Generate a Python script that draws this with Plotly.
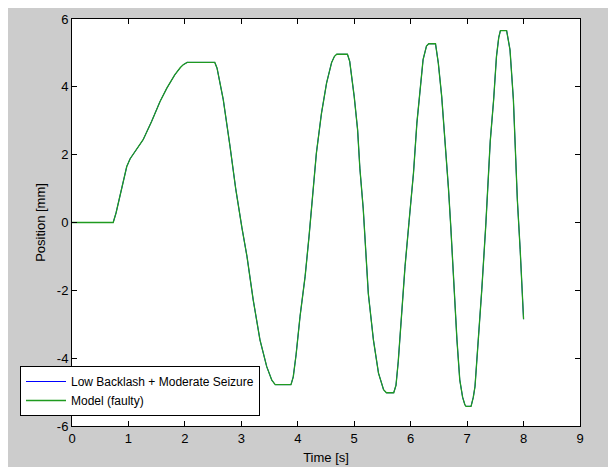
import plotly.graph_objects as go

# Data (time [s], position [mm])
time_s = [0, 0.73, 0.78, 0.87, 0.97, 1.03, 1.09, 1.17, 1.26, 1.41, 1.56, 1.68, 1.82, 1.92, 1.97, 2.04,
          2.53, 2.57, 2.62, 2.68, 2.80, 2.90, 3.01, 3.10, 3.21, 3.33, 3.45, 3.54, 3.60,
          3.88, 3.92, 3.97, 4.04, 4.13, 4.20, 4.28, 4.33, 4.42, 4.51, 4.60, 4.65, 4.69,
          4.88, 4.92, 4.96, 5.00, 5.06, 5.10, 5.16, 5.20, 5.25, 5.34, 5.43, 5.52, 5.57,
          5.70, 5.74, 5.78, 5.82, 5.90, 5.97, 6.05, 6.11, 6.17, 6.22, 6.28, 6.32,
          6.44, 6.49, 6.55, 6.61, 6.67, 6.71, 6.76, 6.82, 6.87, 6.92, 6.96, 6.98,
          7.07, 7.11, 7.14, 7.20, 7.26, 7.33, 7.41, 7.47, 7.52, 7.56, 7.59,
          7.70, 7.73, 7.76, 7.82, 7.855, 7.89, 7.94, 7.985, 8.0]
position_mm = [0, 0, 0.28, 0.95, 1.65, 1.88, 2.02, 2.2, 2.44, 2.98, 3.57, 3.96, 4.35, 4.57, 4.65, 4.72,
               4.72, 4.55, 4.15, 3.62, 2.24, 1.0, -0.15, -1.0, -2.28, -3.46, -4.25, -4.65, -4.78,
               -4.78, -4.55, -3.9, -2.77, -1.59, -0.4, 1.0, 2.05, 3.22, 4.11, 4.72, 4.9, 4.96,
               4.96, 4.75, 4.3, 3.71, 2.73, 1.6, 0.4, -0.6, -2.1, -3.46, -4.44, -4.93, -5.02,
               -5.02, -4.8, -4.1, -3.07, -1.3, 0.0, 1.46, 2.93, 4.01, 4.80, 5.2, 5.27,
               5.27, 4.7, 3.71, 2.44, 1.0, -0.1, -1.79, -3.46, -4.64, -5.15, -5.37, -5.42,
               -5.42, -5.15, -4.83, -3.46, -1.98, -0.1, 2.4, 3.62, 4.89, 5.45, 5.66,
               5.66, 5.4, 5.09, 3.62, 2.14, 0.67, -0.8, -2.3, -2.85]

series_names = ["Low Backlash + Moderate Seizure", "Model (faulty)"]
series_colors = ["#0000ff", "#1f9a1f"]
series_widths = [1, 1.3]
x_ticks = list(range(0, 10))
y_ticks = list(range(-6, 7, 2))
y_tick_labels = [str(v) for v in y_ticks]  # plain hyphen minus, as in the reference

# The page body adds an 8px margin, so figure coords = page coords - 8
W, H = 616, 467
L, R, T, B = 64, 44, 11, 49
PW, PH = W - L - R, H - T - B

def px_x(px):
    return (px - L) / PW

def px_y(py):
    return (H - B - py) / PH

fig = go.Figure()
for name, color, wd in zip(series_names, series_colors, series_widths):
    fig.add_trace(go.Scatter(x=time_s, y=position_mm, mode="lines", name=name,
                             line=dict(color=color, width=wd)))

font = dict(family="Liberation Sans, Arial, sans-serif", size=13, color="#000000")

axis_common = dict(showgrid=False, zeroline=False, showline=True, linecolor="#000000", linewidth=1,
                   mirror="ticks", ticks="inside", ticklen=5, tickcolor="#000000", tickwidth=1,
                   tickfont=font, automargin=False)

fig.update_xaxes(range=[0, 9], tickvals=x_ticks, title=dict(text="Time [s]", font=font, standoff=8),
                 **axis_common)
fig.update_yaxes(range=[-6, 6], tickvals=y_ticks, ticktext=y_tick_labels,
                 title=dict(text="Position [mm]", font=font, standoff=8), **axis_common)

fig.update_layout(
    width=W, height=H,
    margin=dict(l=L, r=R, t=T, b=B, pad=0, autoexpand=False),
    paper_bgcolor="#cccccc", plot_bgcolor="#ffffff",
    font=font,
    legend=dict(x=px_x(12), y=px_y(358), xanchor="left", yanchor="top",
                bgcolor="#ffffff", bordercolor="#000000", borderwidth=1,
                font=dict(family="Liberation Sans, Arial, sans-serif", size=12, color="#000000"),
                tracegroupgap=0, itemwidth=40),
    showlegend=True,
)

fig.write_html("out.html")
